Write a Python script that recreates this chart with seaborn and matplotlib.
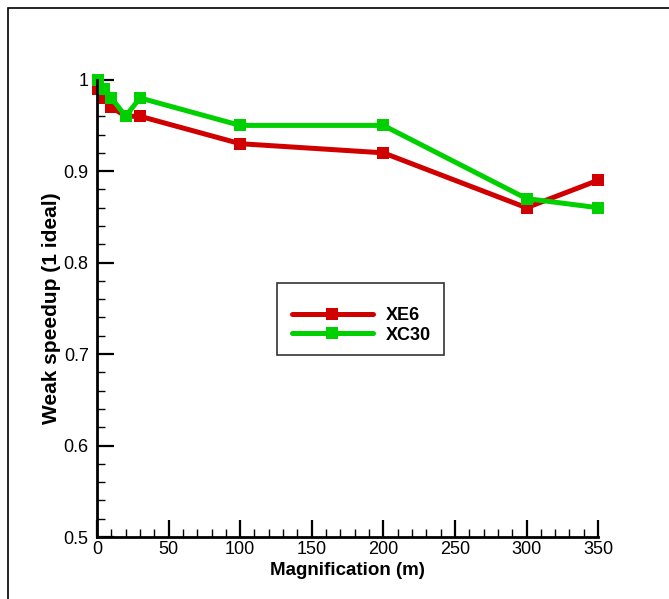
import pandas as pd
import matplotlib.pyplot as plt
import seaborn as sns
from matplotlib.patches import Rectangle
from matplotlib.ticker import MultipleLocator

magnification = [1, 5, 10, 20, 30, 100, 200, 300, 350]
xe6 = [0.99, 0.98, 0.97, 0.96, 0.96, 0.93, 0.92, 0.86, 0.89]
xc30 = [1.0, 0.99, 0.98, 0.96, 0.98, 0.95, 0.95, 0.87, 0.86]
systems = ["XE6", "XC30"]
colors = ["#d00000", "#00d000"]

df = pd.DataFrame({
    "Magnification (m)": magnification * 2,
    "speedup": xe6 + xc30,
    "system": ["XE6"] * len(xe6) + ["XC30"] * len(xc30),
})

sns.set_style("ticks")
plt.rcParams["font.family"] = ["Liberation Sans", "DejaVu Sans"]
plt.rcParams["text.color"] = "black"
plt.rcParams["axes.labelcolor"] = "black"
plt.rcParams["xtick.color"] = "black"
plt.rcParams["ytick.color"] = "black"
plt.rcParams["axes.edgecolor"] = "black"

fig = plt.figure(figsize=(6.69, 5.99), dpi=100)
ax = fig.add_axes([0.145, 0.1035, 0.749, 0.7635])

sns.lineplot(data=df, x="Magnification (m)", y="speedup", hue="system",
             hue_order=systems, palette=colors, style="system",
             markers=["s", "s"], dashes=False, linewidth=3.6, markersize=9,
             markeredgewidth=0, ax=ax, clip_on=False)

ax.set_xlim(0, 350)
ax.set_ylim(0.5, 1.0)
ax.xaxis.set_major_locator(MultipleLocator(50))
ax.xaxis.set_minor_locator(MultipleLocator(10))
ax.yaxis.set_major_locator(MultipleLocator(0.1))
ax.yaxis.set_minor_locator(MultipleLocator(0.02))
ax.yaxis.set_major_formatter(plt.FuncFormatter(lambda v, p: f"{v:g}"))
ax.tick_params(which="major", direction="in", length=12, width=1.6, labelsize=13, pad=3)
ax.tick_params(axis="y", which="major", pad=6)
ax.tick_params(which="minor", direction="in", length=6, width=1.0)
sns.despine(ax=ax)
for s in ["left", "bottom"]:
    ax.spines[s].set_linewidth(2.0)

ax.set_xlabel("Magnification (m)", fontsize=13.5, fontweight="bold", labelpad=3)
ax.set_ylabel("Weak speedup (1 ideal)", fontsize=15, fontweight="bold", labelpad=2)

leg = ax.legend(loc="upper left", bbox_to_anchor=(0.367, 0.527), fontsize=13,
                prop={"weight": "bold", "size": 13}, frameon=False,
                handlelength=4.5, borderpad=0.6, labelspacing=0.15,
                handletextpad=0.7, borderaxespad=0)

# legend box drawn separately (more room above entries than below)
fig.patches.append(Rectangle((277 / 669, 1 - 355 / 599), 167 / 669, 72 / 599,
                             transform=fig.transFigure, fill=False,
                             edgecolor="#333333", linewidth=1.2))

fig.patches.append(Rectangle((8 / 669, -0.5), 2, 1.5 - 8 / 599,
                             transform=fig.transFigure, fill=False,
                             edgecolor="black", linewidth=1.2))

plt.savefig("out.png", dpi=100)
